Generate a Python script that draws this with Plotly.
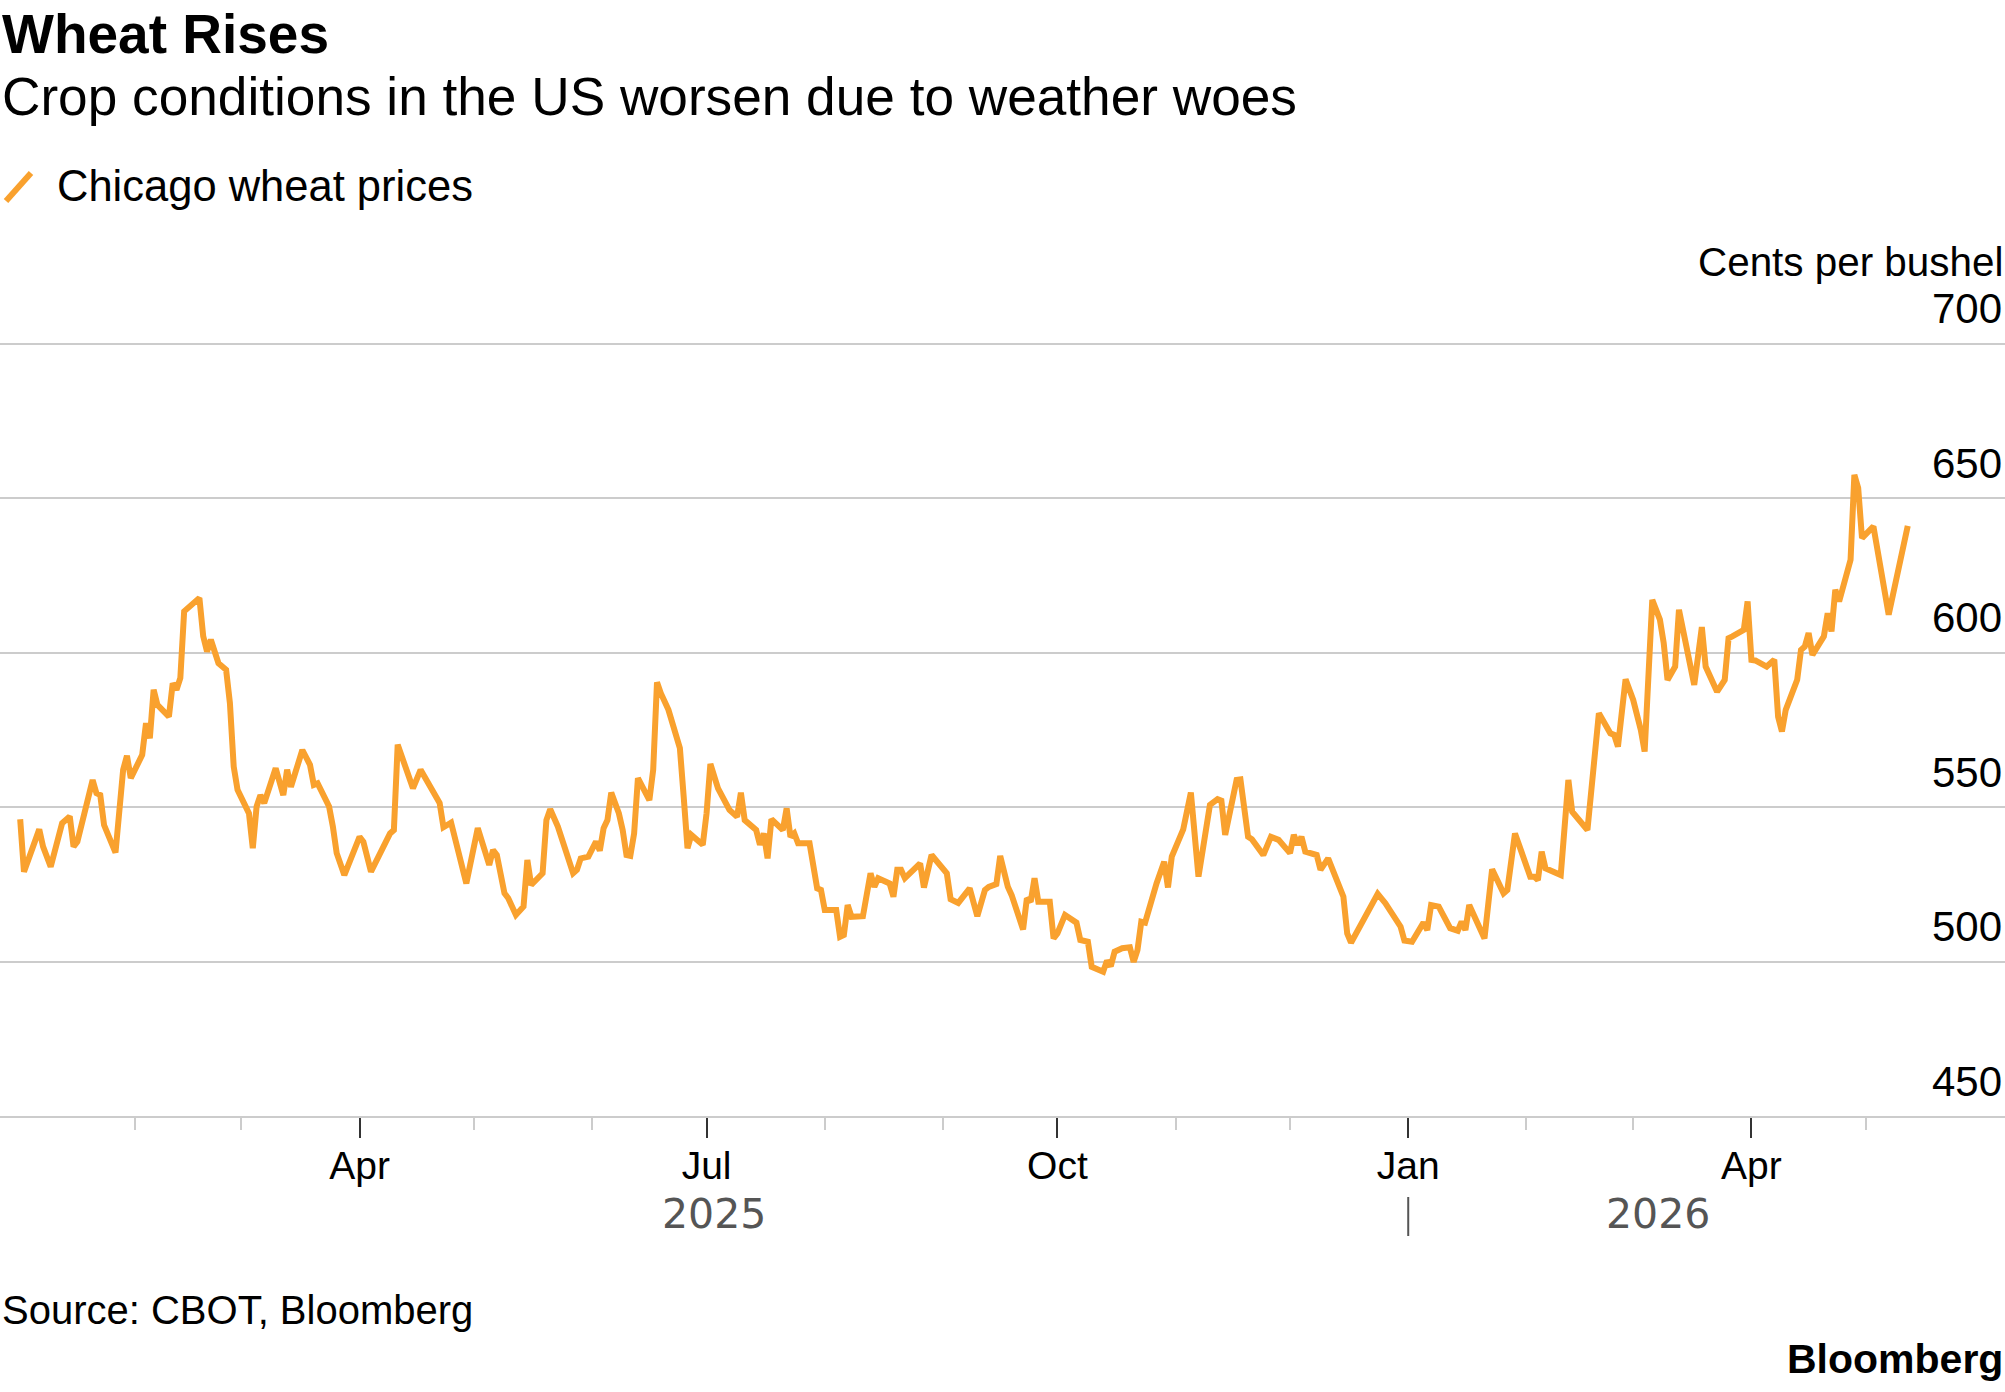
import pandas as pd
import plotly.graph_objects as go

# Chicago wheat, cents per bushel
dates = [
    # 2025
    "2025-01-02", "2025-01-03", "2025-01-07", "2025-01-08", "2025-01-10", "2025-01-13", "2025-01-15",
    "2025-01-16", "2025-01-17", "2025-01-21", "2025-01-22", "2025-01-23", "2025-01-24", "2025-01-27",
    "2025-01-29", "2025-01-30", "2025-01-31",
    "2025-02-02", "2025-02-03", "2025-02-04", "2025-02-05", "2025-02-06", "2025-02-07", "2025-02-10",
    "2025-02-11", "2025-02-12", "2025-02-13", "2025-02-14", "2025-02-15", "2025-02-18", "2025-02-19",
    "2025-02-20", "2025-02-21", "2025-02-23", "2025-02-25", "2025-02-26", "2025-02-27", "2025-02-28",
    "2025-03-03", "2025-03-04", "2025-03-05", "2025-03-06", "2025-03-07", "2025-03-10", "2025-03-12",
    "2025-03-13", "2025-03-14", "2025-03-17", "2025-03-19", "2025-03-20", "2025-03-21", "2025-03-24",
    "2025-03-25", "2025-03-26", "2025-03-28",
    "2025-04-01", "2025-04-02", "2025-04-04", "2025-04-09", "2025-04-10", "2025-04-11", "2025-04-15",
    "2025-04-17", "2025-04-22", "2025-04-23", "2025-04-25", "2025-04-29", "2025-04-30",
    "2025-05-02", "2025-05-05", "2025-05-06", "2025-05-07", "2025-05-09", "2025-05-10", "2025-05-12",
    "2025-05-14", "2025-05-15", "2025-05-16", "2025-05-19", "2025-05-20", "2025-05-21", "2025-05-23",
    "2025-05-27", "2025-05-28", "2025-05-29", "2025-05-31",
    "2025-06-02", "2025-06-03", "2025-06-04", "2025-06-05", "2025-06-06", "2025-06-08", "2025-06-09",
    "2025-06-10", "2025-06-11", "2025-06-12", "2025-06-13", "2025-06-16", "2025-06-17", "2025-06-18",
    "2025-06-19", "2025-06-21", "2025-06-24", "2025-06-25", "2025-06-26", "2025-06-27", "2025-06-30",
    "2025-07-01", "2025-07-02", "2025-07-04", "2025-07-07", "2025-07-09", "2025-07-10", "2025-07-11",
    "2025-07-14", "2025-07-15", "2025-07-16", "2025-07-17", "2025-07-18", "2025-07-21", "2025-07-22",
    "2025-07-23", "2025-07-24", "2025-07-25", "2025-07-28", "2025-07-30", "2025-07-31",
    "2025-08-01", "2025-08-04", "2025-08-05", "2025-08-06", "2025-08-07", "2025-08-08", "2025-08-11",
    "2025-08-13", "2025-08-14", "2025-08-15", "2025-08-18", "2025-08-19", "2025-08-20", "2025-08-21",
    "2025-08-22", "2025-08-26", "2025-08-27", "2025-08-29",
    "2025-09-02", "2025-09-03", "2025-09-05", "2025-09-08", "2025-09-10", "2025-09-12", "2025-09-13",
    "2025-09-15", "2025-09-16", "2025-09-18", "2025-09-19", "2025-09-22", "2025-09-23", "2025-09-24",
    "2025-09-25", "2025-09-26", "2025-09-29", "2025-09-30",
    "2025-10-01", "2025-10-03", "2025-10-06", "2025-10-07", "2025-10-09", "2025-10-10", "2025-10-13",
    "2025-10-14", "2025-10-15", "2025-10-16", "2025-10-18", "2025-10-20", "2025-10-21", "2025-10-22",
    "2025-10-23", "2025-10-24", "2025-10-27", "2025-10-29", "2025-10-30", "2025-10-31",
    "2025-11-03", "2025-11-04", "2025-11-05", "2025-11-07", "2025-11-10", "2025-11-12", "2025-11-13",
    "2025-11-14", "2025-11-17", "2025-11-18", "2025-11-20", "2025-11-21", "2025-11-24", "2025-11-26",
    "2025-11-28",
    "2025-12-01", "2025-12-02", "2025-12-03", "2025-12-04", "2025-12-05", "2025-12-08", "2025-12-09",
    "2025-12-11", "2025-12-15", "2025-12-16", "2025-12-17", "2025-12-22", "2025-12-24", "2025-12-26",
    "2025-12-30", "2025-12-31",
    # 2026
    "2026-01-02", "2026-01-05", "2026-01-06", "2026-01-07", "2026-01-09", "2026-01-12", "2026-01-14",
    "2026-01-15", "2026-01-16", "2026-01-17", "2026-01-21", "2026-01-23", "2026-01-26", "2026-01-27",
    "2026-01-29",
    "2026-02-02", "2026-02-03", "2026-02-04", "2026-02-05", "2026-02-06", "2026-02-10", "2026-02-12",
    "2026-02-13", "2026-02-17", "2026-02-20", "2026-02-23", "2026-02-24", "2026-02-25", "2026-02-27",
    "2026-03-01", "2026-03-03", "2026-03-04", "2026-03-06", "2026-03-08", "2026-03-09", "2026-03-10",
    "2026-03-12", "2026-03-13", "2026-03-15", "2026-03-17", "2026-03-18", "2026-03-19", "2026-03-20",
    "2026-03-23", "2026-03-25", "2026-03-26", "2026-03-27", "2026-03-30", "2026-03-31",
    "2026-04-01", "2026-04-02", "2026-04-05", "2026-04-07", "2026-04-08", "2026-04-09", "2026-04-10",
    "2026-04-13", "2026-04-14", "2026-04-15", "2026-04-16", "2026-04-17", "2026-04-20", "2026-04-21",
    "2026-04-22", "2026-04-23", "2026-04-24", "2026-04-27", "2026-04-28", "2026-04-29", "2026-04-30",
    "2026-05-03", "2026-05-07", "2026-05-12",
]

prices = [
    # 2025
    546.1, 529.1, 542.8, 537.2, 530.7, 544.8, 547.0,
    537.2, 538.8, 558.8, 554.5, 553.9, 544.2, 535.3,
    562.1, 566.6, 559.4,
    564.2, 566.9, 577.2, 572.3, 588.0, 583.1, 579.3,
    590.1, 588.0, 591.8, 613.4, 614.5, 617.7, 605.3,
    600.4, 604.2, 596.6, 594.5, 583.7, 563.1, 555.6,
    548.0, 536.7, 550.2, 553.9, 551.3, 562.6, 553.9,
    562.1, 556.6, 568.5, 563.7, 557.2, 557.7, 550.2,
    543.7, 535.1, 528.0,
    540.4, 538.8, 529.1, 541.5, 542.6, 570.2, 556.1,
    562.1, 551.3, 543.5, 545.0, 525.3, 530.7,
    543.2, 531.3, 536.1, 534.5, 522.1, 520.5, 515.1,
    517.8, 532.9, 524.8, 528.6, 545.8, 549.3, 543.7,
    528.6, 529.7, 533.4, 534.0,
    538.8, 535.9, 543.2, 545.8, 554.7, 548.0, 542.6,
    534.5, 534.2, 541.5, 559.4, 552.3, 562.1, 590.4,
    586.9, 581.5, 569.1, 553.4, 536.7, 541.0, 537.8,
    548.0, 564.0, 556.1, 549.1, 546.9, 554.7, 545.8,
    542.6, 537.8, 541.5, 533.4, 546.1, 542.6, 549.6,
    540.4, 541.5, 538.3, 538.3, 523.7, 523.2,
    516.7, 516.7, 508.0, 508.6, 518.3, 514.5, 514.7,
    528.6, 524.2, 527.0, 525.3, 521.0, 529.7, 529.7,
    527.0, 531.8, 524.0, 534.5,
    528.6, 520.2, 519.0, 523.7, 514.7, 523.2, 524.2,
    525.1, 534.2, 524.2, 521.5, 510.4, 520.5, 519.4,
    527.0, 519.4, 519.4, 507.5,
    509.1, 515.1, 512.6, 507.0, 506.4, 498.3, 496.7,
    500.3, 498.5, 503.2, 504.3, 504.6, 499.9, 503.7,
    512.9, 512.6, 525.3, 532.3, 524.0, 534.0,
    542.8, 549.1, 554.7, 527.5, 550.7, 552.6, 552.1,
    541.0, 558.8, 559.0, 540.4, 539.6, 534.5, 540.4,
    539.4,
    535.1, 541.0, 537.8, 540.4, 535.6, 534.5, 529.7,
    533.4, 521.0, 509.1, 506.1, 516.7, 521.9, 518.9,
    511.3, 506.8,
    # 2026
    506.4, 512.6, 510.2, 518.3, 517.8, 510.8, 510.0,
    512.9, 510.2, 518.3, 507.5, 529.9, 522.1, 523.2,
    541.5,
    527.5, 527.5, 526.4, 535.6, 530.2, 528.0, 558.8,
    548.5, 542.6, 580.4, 573.9, 573.4, 569.6, 591.4,
    584.7, 575.0, 568.0, 617.1, 610.7, 603.1, 591.2,
    595.5, 613.9, 602.0, 589.6, 598.8, 608.3, 595.5,
    587.4, 591.2, 604.7, 605.3, 607.4, 616.6,
    597.7, 597.5, 595.5, 597.7, 579.3, 574.5, 581.5,
    591.2, 600.9, 602.0, 606.4, 599.3, 605.3, 612.8,
    606.9, 620.4, 616.6, 630.1, 657.6, 653.3, 637.1,
    640.9, 612.3, 641.1,
]

major_ticks = ["2025-04-01", "2025-07-01", "2025-10-01", "2026-01-01", "2026-04-01"]
major_labels = ["Apr", "Jul", "Oct", "Jan", "Apr"]
minor_ticks = ["2025-02-01", "2025-03-01", "2025-05-01", "2025-06-01", "2025-08-01", "2025-09-01",
               "2025-11-01", "2025-12-01", "2026-02-01", "2026-03-01", "2026-05-01"]
y_ticks = [450, 500, 550, 600, 650, 700]
year_break = "2026-01-01"

ORANGE = "#F9A12E"
GRID = "#cccccc"
FONT = "Liberation Sans, Arial, sans-serif"

W, H = 2005, 1392
TOP, BOTTOM = 342, 276


def py(y_px):
    # pixel row -> paper y
    return (H - BOTTOM - y_px) / (H - TOP - BOTTOM)


fig = go.Figure()
fig.add_trace(go.Scatter(
    x=dates, y=prices, mode="lines",
    line=dict(color=ORANGE, width=6),
    name="Chicago wheat prices", showlegend=False,
))

first = pd.Timestamp(dates[0])
last = pd.Timestamp(dates[-1])
brk = pd.Timestamp(year_break)
mid_2025 = first + (brk - first) / 2
mid_2026 = brk + (last - brk) / 2

annotations = [
    dict(text="<b>Wheat Rises</b>", x=0, y=py(34), xanchor="left", yanchor="middle",
         font=dict(size=55, color="#000")),
    dict(text="Crop conditions in the US worsen due to weather woes", x=0, y=py(96),
         xanchor="left", yanchor="middle", font=dict(size=53.2, color="#000")),
    dict(text="Chicago wheat prices", x=55 / W, y=py(186), xanchor="left", yanchor="middle",
         font=dict(size=43.5, color="#000")),
    dict(text="Cents per bushel", x=1, y=py(262), xanchor="right", yanchor="middle",
         font=dict(size=40.4, color="#000")),
    dict(text="Source: CBOT, Bloomberg", x=0, y=py(1310), xanchor="left", yanchor="middle",
         font=dict(size=40, color="#000")),
    dict(text="<b>Bloomberg</b>", x=1, y=py(1359), xanchor="right", yanchor="middle",
         font=dict(size=41, color="#000")),
    dict(text="2025", x=mid_2025, xref="x", y=py(1214), xanchor="center", yanchor="middle",
         font=dict(size=41, color="#555", family="DejaVu Sans")),
    dict(text="2026", x=mid_2026, xref="x", y=py(1214), xanchor="center", yanchor="middle",
         font=dict(size=41, color="#555", family="DejaVu Sans")),
]
for a in annotations:
    a.setdefault("xref", "paper")
    a["yref"] = "paper"
    a["showarrow"] = False

# value labels sit just above their gridlines at the right edge
for v in y_ticks:
    annotations.append(dict(
        text=str(v), xref="paper", x=1, xanchor="right", xshift=-1,
        yref="y", y=v, yanchor="middle", yshift=35,
        showarrow=False, font=dict(size=42, color="#000"),
    ))

shapes = [
    # legend swatch
    dict(type="line", xref="paper", yref="paper", x0=6 / W, y0=py(201), x1=31 / W, y1=py(173),
         line=dict(color=ORANGE, width=6)),
    # year separator
    dict(type="line", xref="x", yref="paper", x0=year_break, x1=year_break,
         y0=py(1197), y1=py(1236), line=dict(color="#555", width=2)),
]

fig.update_layout(
    width=W, height=H,
    margin=dict(l=0, r=0, t=TOP, b=BOTTOM),
    paper_bgcolor="white", plot_bgcolor="white",
    font=dict(family=FONT, color="#000"),
    annotations=annotations, shapes=shapes,
    showlegend=False,
)

fig.update_xaxes(
    type="date",
    range=["2024-12-27 17:00", "2026-06-06 12:00"],
    tickmode="array", tickvals=major_ticks, ticktext=major_labels,
    ticks="outside", ticklen=20, tickwidth=2, tickcolor="#333",
    tickfont=dict(size=39, color="#000"), ticklabelstandoff=-6,
    showgrid=False, zeroline=False,
    showline=True, linecolor=GRID, linewidth=2,
    minor=dict(tickmode="array", tickvals=minor_ticks, ticks="outside",
               ticklen=12, tickwidth=2, tickcolor=GRID),
)

fig.update_yaxes(
    range=[450, 700.6], tickmode="array", tickvals=y_ticks,
    showticklabels=False, ticks="", showline=False, zeroline=False,
    showgrid=True, gridcolor=GRID, gridwidth=2,
)

fig.write_html("out.html", config={"displayModeBar": False},
               post_script="document.body.style.margin='0';")
